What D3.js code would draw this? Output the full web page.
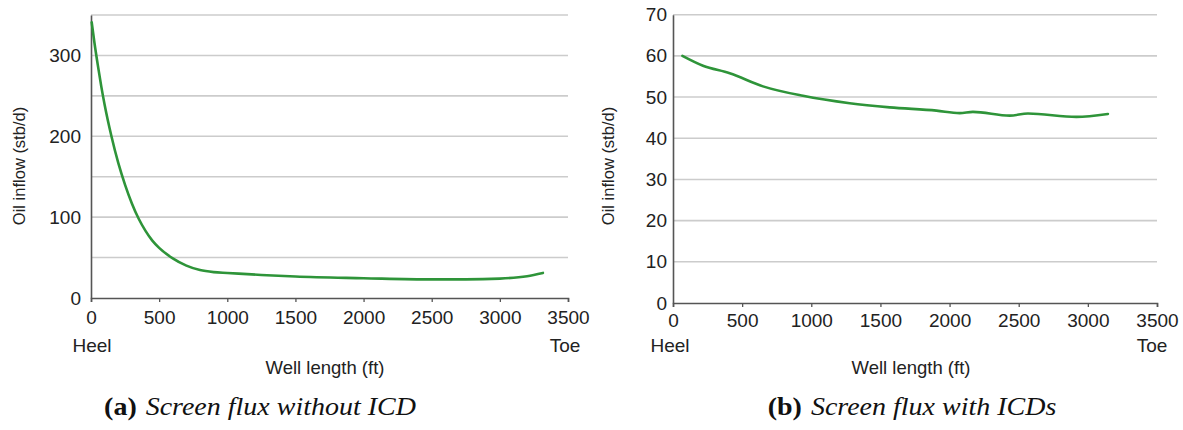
<!DOCTYPE html>
<html>
<head>
<meta charset="utf-8">
<script src="https://cdn.jsdelivr.net/npm/d3@7"></script>
<style>
  html, body { margin: 0; padding: 0; background: #fff; }
  svg { display: block; }
</style>
</head>
<body>
<svg id="chart" width="1183" height="430"></svg>
<script>
// ---- Data ----
const xTicks = [0, 500, 1000, 1500, 2000, 2500, 3000, 3500];

// Panel (a): screen flux without ICD
const aLength = [5, 25, 50, 75, 100, 150, 200, 250, 300, 350, 400, 450, 500, 600, 700, 800, 900, 1000, 1250, 1500, 2000, 2500, 2750, 3000, 3200, 3316];
const aInflow = [341, 316, 288, 262, 239, 200, 167, 140, 117, 98, 83, 71, 62, 49, 40, 34.5, 32, 31, 28.5, 26.5, 24.5, 23, 23, 24, 27, 31];
const aGridTicks = [0, 50, 100, 150, 200, 250, 300, 350];
const aLabelTicks = [0, 100, 200, 300];

// Panel (b): screen flux with ICDs
const bLength = [68, 217, 410, 651, 940, 1278, 1567, 1905, 2073, 2169, 2435, 2567, 2917, 3145];
const bInflow = [60, 57.6, 55.8, 52.6, 50.3, 48.5, 47.5, 46.7, 46.1, 46.4, 45.5, 46.0, 45.2, 45.9];
const bGridTicks = [0, 10, 20, 30, 40, 50, 60, 70];
const bLabelTicks = [0, 10, 20, 30, 40, 50, 60, 70];

const xTitle = "Well length (ft)";
const yTitle = "Oil inflow (stb/d)";

// ---- Drawing ----
const svg = d3.select("#chart");
svg.append("rect").attr("width", 1183).attr("height", 430).attr("fill", "#fff");

const FONT = "'Liberation Sans', Arial, Helvetica, sans-serif";
const AXIS = "#555";
const GRID = "#cccccc";
const LINE = "#2e9439";

function panel(opt) {
  const x = d3.scaleLinear().domain([0, 3500]).range([opt.x0, opt.x1]);
  const y = d3.scaleLinear().domain([0, opt.yMax]).range([opt.y0, opt.y1]);
  const g = svg.append("g");

  // gridlines
  g.selectAll("line.grid").data(opt.grid.filter(d => d > 0)).join("line")
    .attr("class", "grid")
    .attr("x1", opt.x0).attr("x2", opt.x1)
    .attr("y1", d => y(d)).attr("y2", d => y(d))
    .attr("stroke", GRID).attr("stroke-width", 1.6);

  // x axis
  const xa = g.append("g").attr("transform", `translate(0,${opt.y0})`)
    .call(d3.axisBottom(x).tickValues(xTicks).tickSize(4).tickPadding(opt.xPad).tickFormat(d3.format("d")));
  xa.select(".domain").attr("stroke", AXIS).attr("stroke-width", 1.6);
  xa.selectAll(".tick line").attr("stroke", AXIS).attr("stroke-width", 1.3);
  xa.selectAll(".tick text").attr("font-size", 19).attr("font-family", FONT).attr("fill", "#222");

  // y axis
  const ya = g.append("g").attr("transform", `translate(${opt.x0},0)`)
    .call(d3.axisLeft(y).tickValues(opt.labels).tickSize(0).tickPadding(opt.yPad).tickFormat(d3.format("d")));
  ya.select(".domain").attr("stroke", AXIS).attr("stroke-width", 1.6);
  ya.selectAll(".tick text").attr("font-size", 19).attr("font-family", FONT).attr("fill", "#222");

  // curve
  const line = d3.line().x((d, i) => x(opt.xs[i])).y((d, i) => y(opt.ys[i])).curve(d3.curveMonotoneX);
  g.append("path").datum(opt.ys).attr("d", line)
    .attr("fill", "none").attr("stroke", LINE).attr("stroke-width", 2.6).attr("stroke-linecap", "round");

  // Heel / Toe
  g.append("text").attr("x", x(0) + opt.heelDx).attr("y", 352).attr("text-anchor", "middle")
    .attr("font-family", FONT).attr("font-size", 19).attr("fill", "#222").text("Heel");
  g.append("text").attr("x", x(3500) + opt.toeDx).attr("y", 352).attr("text-anchor", "middle")
    .attr("font-family", FONT).attr("font-size", 19).attr("fill", "#222").text("Toe");

  // axis titles
  g.append("text").attr("x", opt.xTitleX).attr("y", 374).attr("text-anchor", "middle")
    .attr("font-family", FONT).attr("font-size", 18.5).attr("fill", "#222").text(xTitle);
  g.append("text").attr("transform", `translate(${opt.yTitleX},166) rotate(-90)`)
    .attr("text-anchor", "middle").attr("dy", "0.35em")
    .attr("font-family", FONT).attr("font-size", 16.5).attr("fill", "#222").text(yTitle);

  // caption
  const cg = svg.append("g").attr("transform", `translate(${opt.capX},415) scale(1.12,1)`);
  const cap = cg.append("text").attr("x", 0).attr("y", 0).attr("text-anchor", "middle")
    .attr("font-family", "'Liberation Serif', 'DejaVu Serif', serif").attr("font-size", 25).attr("fill", "#111");
  cap.append("tspan").attr("font-weight", "bold").text(opt.capLabel);
  cap.append("tspan").attr("font-style", "italic").attr("dx", 8).text(opt.capText);
}

panel({
  x0: 91, x1: 568, y0: 298, y1: 15, yMax: 350,
  grid: aGridTicks, labels: aLabelTicks, yPad: 10, xPad: 9,
  xs: aLength, ys: aInflow,
  heelDx: 1, toeDx: -3,
  xTitleX: 325, yTitleX: 19,
  capX: 260, capLabel: "(a)", capText: "Screen flux without ICD"
});

panel({
  x0: 673, x1: 1157, y0: 303, y1: 14.7, yMax: 70,
  grid: bGridTicks, labels: bLabelTicks, yPad: 6, xPad: 7,
  xs: bLength, ys: bInflow,
  heelDx: -3, toeDx: -5,
  xTitleX: 911, yTitleX: 608,
  capX: 912, capLabel: "(b)", capText: "Screen flux with ICDs"
});
</script>
</body>
</html>
